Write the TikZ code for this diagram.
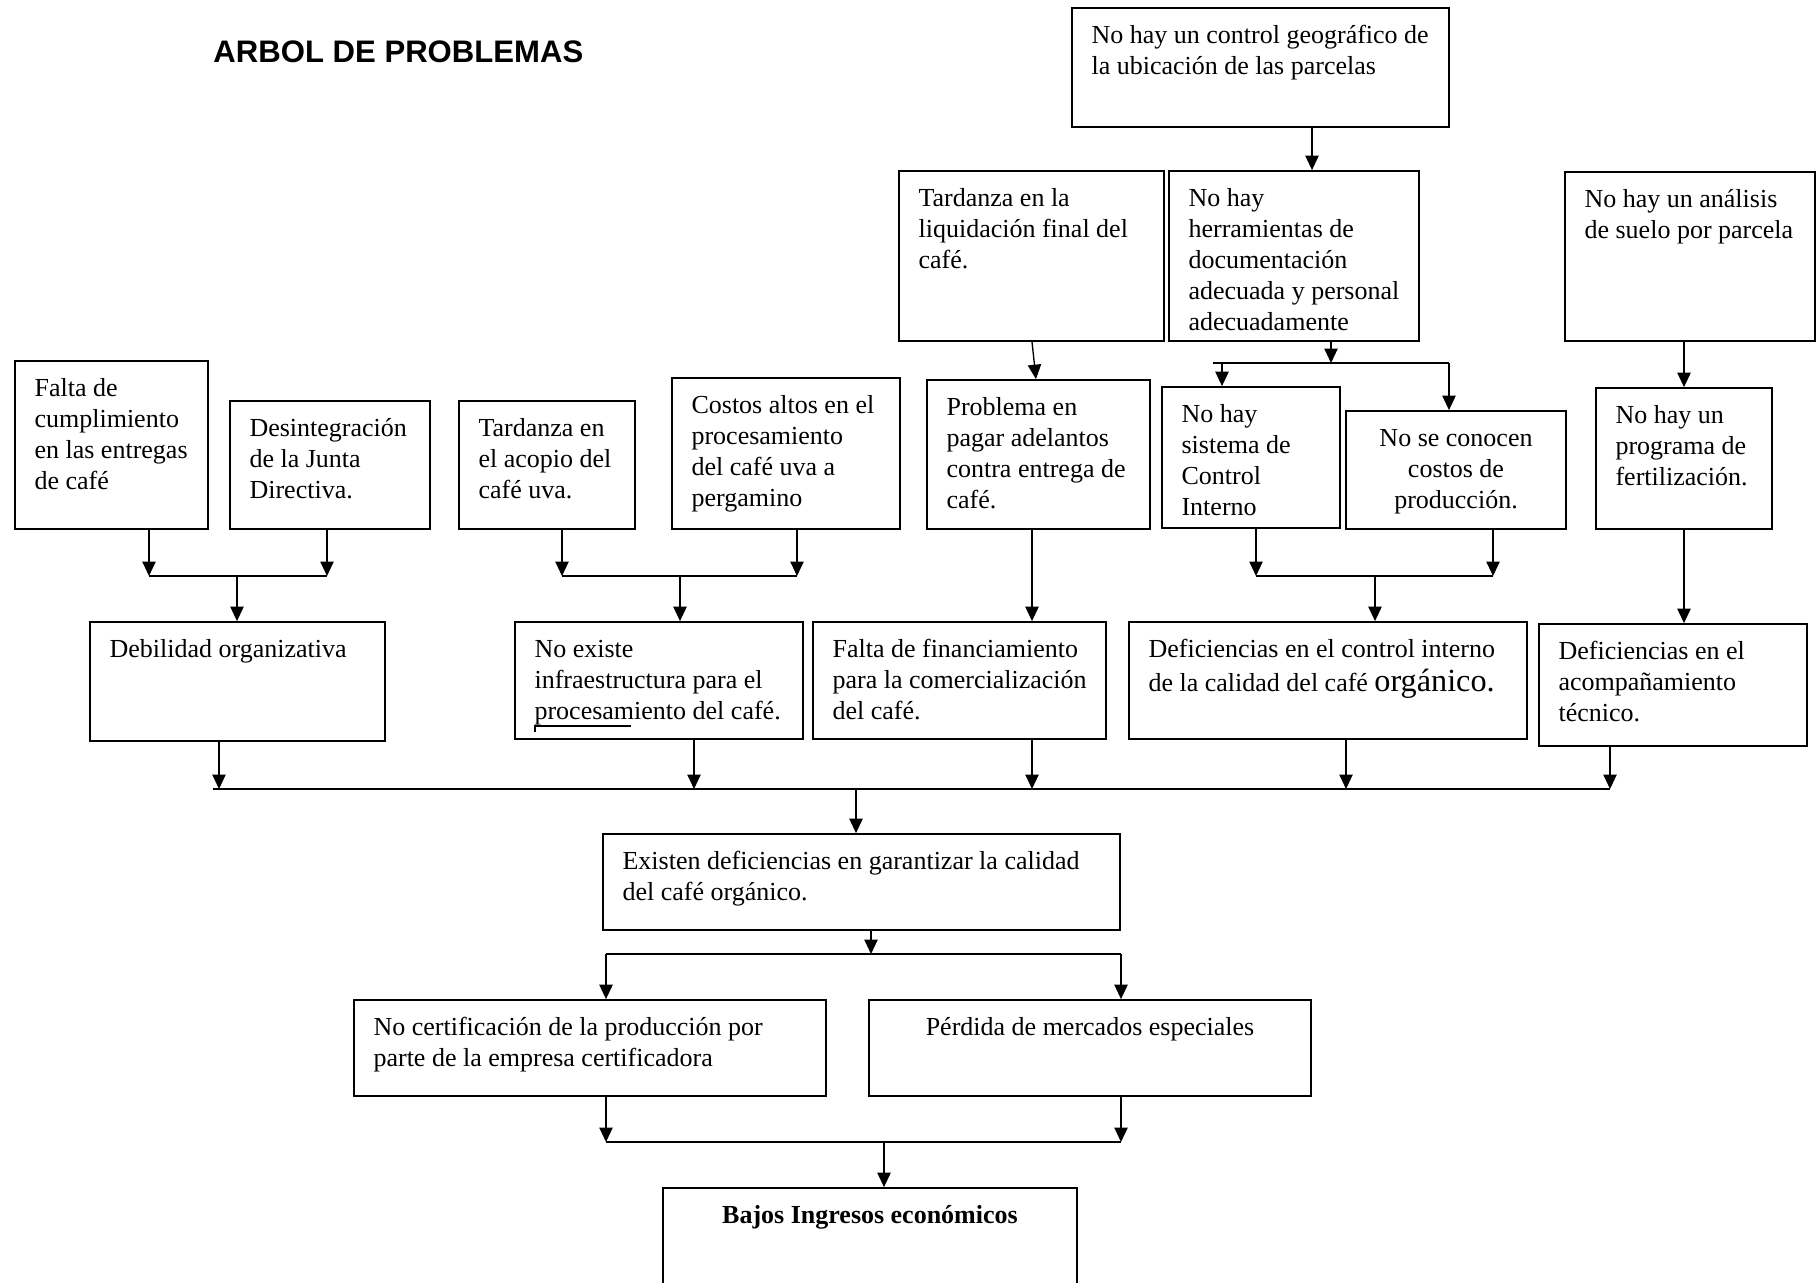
\documentclass[tikz,border=0pt]{standalone}
\usepackage{fontspec}
\setmainfont{Liberation Serif}
\newfontfamily\titlefont{Liberation Sans}
\usetikzlibrary{arrows.meta,fit}

% box with top-left text: name, x1, y1, x2, y2, text
\newcommand\pbox[6]{%
  \node[box,fit={(#2,#3)(#4,#5)}] (#1) {};
  \node[txt] (#1-t) at ([shift={(20,14)}]#1.north west) {\strut #6};}
% box with centred text
\newcommand\cbox[6]{%
  \node[box,fit={(#2,#3)(#4,#5)}] (#1) {};
  \node[ctxt] (#1-t) at ([shift={(0,14)}]#1.north) {\strut #6};}

\begin{document}
\begin{tikzpicture}[x=0.45pt,y=-0.45pt,
  box/.style={draw,line width=0.8pt,inner sep=0pt},
  txt/.style={anchor=north west,inner sep=0pt,align=left,
    font=\fontsize{11.7pt}{14pt}\selectfont},
  ctxt/.style={txt,anchor=north,align=center},
  arr/.style={line width=0.6pt,-{Triangle[width=6pt,length=6.5pt]}},
  ln/.style={line width=0.6pt}]
\useasboundingbox (0,0) rectangle (1816,1282);

% title
\node[anchor=west,inner sep=0pt,font=\titlefont\bfseries\fontsize{14pt}{16pt}\selectfont]
  (title) at (213,52) {ARBOL DE PROBLEMAS};

% top level causes
\pbox{ctrl}{1072}{8}{1449}{127}{No hay un control geográfico de\\la ubicación de las parcelas}
\pbox{liq}{899}{171}{1164}{341}{Tardanza en la\\liquidación final del\\café.}
\pbox{herr}{1169}{171}{1419}{341}{No hay\\herramientas de\\documentación\\adecuada y personal\\adecuadamente}
\pbox{suelo}{1565}{172}{1815}{341}{No hay un análisis\\de suelo por parcela}

% second row of causes
\pbox{falta}{15}{361}{208}{529}{Falta de\\cumplimiento\\en las entregas\\de café}
\pbox{desint}{230}{401}{430}{529}{Desintegración\\de la Junta\\Directiva.}
\pbox{acopio}{459}{401}{635}{529}{Tardanza en\\el acopio del\\café uva.}
\pbox{costos}{672}{378}{900}{529}{Costos altos en el\\procesamiento\\del café uva a\\pergamino}
\pbox{probl}{927}{380}{1150}{529}{Problema en\\pagar adelantos\\contra entrega de\\café.}
\pbox{sist}{1162}{387}{1340}{528}{No hay\\sistema de\\Control\\Interno}
\cbox{conoc}{1346}{411}{1566}{529}{No se conocen\\costos de\\producción.}
\pbox{fert}{1596}{388}{1772}{529}{No hay un\\programa de\\fertilización.}

% third row
\pbox{debil}{90}{622}{385}{741}{Debilidad organizativa}
\pbox{infra}{515}{622}{803}{739}{No existe\\infraestructura para el\\procesamiento del café.}
\pbox{financ}{813}{622}{1106}{739}{Falta de financiamiento\\para la comercialización\\del café.}
\pbox{defci}{1129}{622}{1527}{739}{Deficiencias en el control interno\\de la calidad del café {\fontsize{14.5pt}{16pt}\selectfont orgánico.}}
\pbox{defat}{1539}{624}{1807}{746}{Deficiencias en el\\acompañamiento\\técnico.}

% central problem and effects
\pbox{exist}{603}{834}{1120}{930}{Existen deficiencias en garantizar la calidad\\del café orgánico.}
\pbox{cert}{354}{1000}{826}{1096}{No certificación de la producción por\\parte de la empresa certificadora}
\cbox{perd}{869}{1000}{1311}{1096}{Pérdida de mercados especiales}
\cbox{bajos}{663}{1188}{1077}{1300}{\textbf{Bajos Ingresos económicos}}

% check-style underline under a word
\draw[line width=0.5pt] (535,732) -- (535,726) -- (631,726);

% junction points
\coordinate (jh) at (1331,363);
\coordinate (jh-l) at (1213,363);
\coordinate (jh-r) at (1449,363);
\coordinate (j1) at (237,576);
\coordinate (j1-l) at (149,576);
\coordinate (j1-r) at (327,576);
\coordinate (j2) at (680,576);
\coordinate (j2-l) at (562,576);
\coordinate (j2-r) at (797,576);
\coordinate (j3) at (1375,576);
\coordinate (j3-l) at (1256,576);
\coordinate (j3-r) at (1493,576);
\coordinate (jm) at (856,789);
\coordinate (jm-l) at (213,789);
\coordinate (jm-r) at (1610,789);
\coordinate (je) at (871,954);
\coordinate (je-l) at (606,954);
\coordinate (je-r) at (1121,954);
\coordinate (jb) at (884,1142);
\coordinate (jb-l) at (606,1142);
\coordinate (jb-r) at (1121,1142);

% upper connectors
\draw[arr] (ctrl.south -| 1312,0) -- (herr.north -| 1312,0);
\draw[arr] (liq.south -| 1032,0) -- (probl.north -| 1036,0);
\draw[arr] (herr.south -| jh) -- (jh);
\draw[ln] (jh-l) -- (jh-r);
\draw[arr] (jh-l -| 1222,0) -- (sist.north -| 1222,0);
\draw[arr] (jh-r) -- (conoc.north -| jh-r);
\draw[arr] (suelo.south -| 1684,0) -- (fert.north -| 1684,0);

% second row to third row
\draw[arr] (falta.south -| j1-l) -- (j1-l);
\draw[arr] (desint.south -| j1-r) -- (j1-r);
\draw[ln] (j1-l) -- (j1-r);
\draw[arr] (j1) -- (debil.north -| j1);

\draw[arr] (acopio.south -| j2-l) -- (j2-l);
\draw[arr] (costos.south -| j2-r) -- (j2-r);
\draw[ln] (j2-l) -- (j2-r);
\draw[arr] (j2) -- (infra.north -| j2);

\draw[arr] (probl.south -| 1032,0) -- (financ.north -| 1032,0);

\draw[arr] (sist.south -| j3-l) -- (j3-l);
\draw[arr] (conoc.south -| j3-r) -- (j3-r);
\draw[ln] (j3-l) -- (j3-r);
\draw[arr] (j3) -- (defci.north -| j3);

\draw[arr] (fert.south -| 1684,0) -- (defat.north -| 1684,0);

% third row to the central problem
\draw[arr] (debil.south -| 219,0) -- (jm -| 219,0);
\draw[arr] (infra.south -| 694,0) -- (jm -| 694,0);
\draw[arr] (financ.south -| 1032,0) -- (jm -| 1032,0);
\draw[arr] (defci.south -| 1346,0) -- (jm -| 1346,0);
\draw[arr] (defat.south -| jm-r) -- (jm-r);
\draw[ln] (jm-l) -- (jm-r);
\draw[arr] (jm) -- (exist.north -| jm);

% effects
\draw[arr] (exist.south -| je) -- (je);
\draw[ln] (je-l) -- (je-r);
\draw[arr] (je-l) -- (cert.north -| je-l);
\draw[arr] (je-r) -- (perd.north -| je-r);
\draw[arr] (cert.south -| jb-l) -- (jb-l);
\draw[arr] (perd.south -| jb-r) -- (jb-r);
\draw[ln] (jb-l) -- (jb-r);
\draw[arr] (jb) -- (bajos.north -| jb);
\end{tikzpicture}
\end{document}
